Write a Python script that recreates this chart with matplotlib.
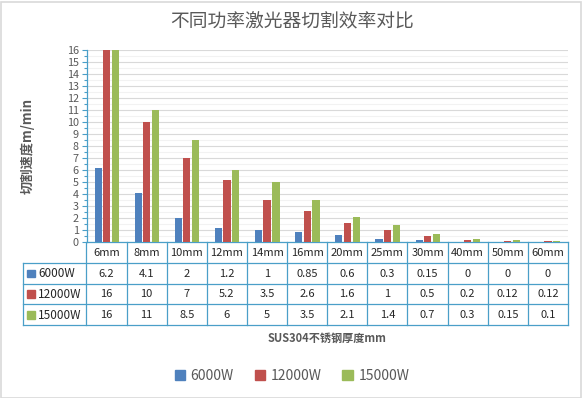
import matplotlib
matplotlib.use("Agg")
import matplotlib.pyplot as plt
from matplotlib.patches import Rectangle
from matplotlib.ticker import MultipleLocator

plt.rcParams["font.family"] = ["Noto Sans CJK SC", "DejaVu Sans"]

# data
thickness = ["6mm", "8mm", "10mm", "12mm", "14mm", "16mm",
             "20mm", "25mm", "30mm", "40mm", "50mm", "60mm"]
series_names = ["6000W", "12000W", "15000W"]
speed_6000 = [6.2, 4.1, 2, 1.2, 1, 0.85, 0.6, 0.3, 0.15, 0, 0, 0]
speed_12000 = [16, 10, 7, 5.2, 3.5, 2.6, 1.6, 1, 0.5, 0.2, 0.12, 0.12]
speed_15000 = [16, 11, 8.5, 6, 5, 3.5, 2.1, 1.4, 0.7, 0.3, 0.15, 0.1]
cell_text = [
    ["6.2", "4.1", "2", "1.2", "1", "0.85", "0.6", "0.3", "0.15", "0", "0", "0"],
    ["16", "10", "7", "5.2", "3.5", "2.6", "1.6", "1", "0.5", "0.2", "0.12", "0.12"],
    ["16", "11", "8.5", "6", "5", "3.5", "2.1", "1.4", "0.7", "0.3", "0.15", "0.1"],
]

colors = ["#4F81BD", "#C0504D", "#9BBB59"]
line_col = "#4A9FC8"
W, H = 582, 398


def box(l, t, r, b):
    """pixel box -> figure fraction rect"""
    return [l / W, 1 - b / H, (r - l) / W, (b - t) / H]


fig = plt.figure(figsize=(W / 100, H / 100), dpi=100)
fig.patches.append(Rectangle((0.5 / W, 0.5 / H), 1 - 2 / W, 1 - 2 / H,
                             transform=fig.transFigure, fill=False,
                             edgecolor="#D9D9D9", linewidth=1.2))

# main bar chart
ax = fig.add_axes(box(86.5, 50, 568, 242.3))
x = list(range(len(thickness)))
offsets = [-0.21, 0, 0.22]
for vals, off, c in zip([speed_6000, speed_12000, speed_15000], offsets, colors):
    ax.bar([i + off for i in x], vals, width=0.18, color=c, zorder=3)

ax.set_xlim(-0.5, len(thickness) - 0.5)
ax.set_ylim(0, 16)
ax.yaxis.set_major_locator(MultipleLocator(1))
ax.yaxis.set_minor_locator(MultipleLocator(0.5))
ax.grid(axis="y", which="major", color="#D9D9D9", linewidth=0.8, zorder=0)
ax.grid(axis="y", which="minor", color="#F2F2F2", linewidth=0.8, zorder=0)
ax.set_xticks([])
ax.tick_params(axis="y", which="major", length=3.5, width=0.8, color=line_col,
               labelsize=7.8, labelcolor="#595959", pad=2)
ax.tick_params(axis="y", which="minor", length=2, width=0.8, color=line_col)
for s in ["top", "right"]:
    ax.spines[s].set_visible(False)
for s in ["left", "bottom"]:
    ax.spines[s].set_color(line_col)
    ax.spines[s].set_linewidth(0.9)
ax.set_ylabel("切割速度m/min", fontsize=9.5, fontweight="bold", color="#595959")
ax.yaxis.set_label_coords(-0.108, 0.5)

# data table under the axis, aligned with the categories
unit = (568 - 86.5) / len(thickness)
left_x = -0.5 - (86.5 - 22.7) / unit
tab = fig.add_axes(box(22.7, 242.3, 568, 325))
tab.set_xlim(left_x, len(thickness) - 0.5)
tab.set_ylim(4, 0)
tab.axis("off")
lw = 0.9
for r in range(1, 5):
    tab.plot([left_x, len(thickness) - 0.5], [r, r], color=line_col, lw=lw,
             clip_on=False, solid_capstyle="projecting")
for k in range(len(thickness) + 1):
    tab.plot([k - 0.5, k - 0.5], [0, 4], color=line_col, lw=lw, clip_on=False)
tab.plot([left_x, left_x], [1, 4], color=line_col, lw=lw, clip_on=False)

for i, lab in enumerate(thickness):
    tab.text(i, 0.52, lab, ha="center", va="center", fontsize=8, color="#262626")
for r, (name, c, row) in enumerate(zip(series_names, colors, cell_text)):
    y = r + 1.52
    tab.add_patch(Rectangle((left_x + 0.11, y - 0.2), 0.19, 0.38, color=c,
                            clip_on=False))
    tab.text(left_x + 0.38, y, name, ha="left", va="center", fontsize=8.5,
             color="#262626")
    for i, t in enumerate(row):
        tab.text(i, y, t, ha="center", va="center", fontsize=8, color="#262626")

# titles and legend
fig.text(292 / W, 1 - 22 / H, "不同功率激光器切割效率对比", ha="center", va="center",
         fontsize=13.5, color="#595959")
fig.text(327 / W, 1 - 338 / H, "SUS304不锈钢厚度mm", ha="center", va="center",
         fontsize=8, fontweight="bold", color="#595959")

handles = [Rectangle((0, 0), 1, 1, color=c) for c in colors]
fig.legend(handles, series_names, loc="center", bbox_to_anchor=(292 / W, 1 - 376 / H),
           ncol=3, frameon=False, fontsize=10, labelcolor="#595959",
           handlelength=0.75, handleheight=0.75, handletextpad=0.4,
           columnspacing=1.5)

fig.savefig("out.png", dpi=100, facecolor="white")
